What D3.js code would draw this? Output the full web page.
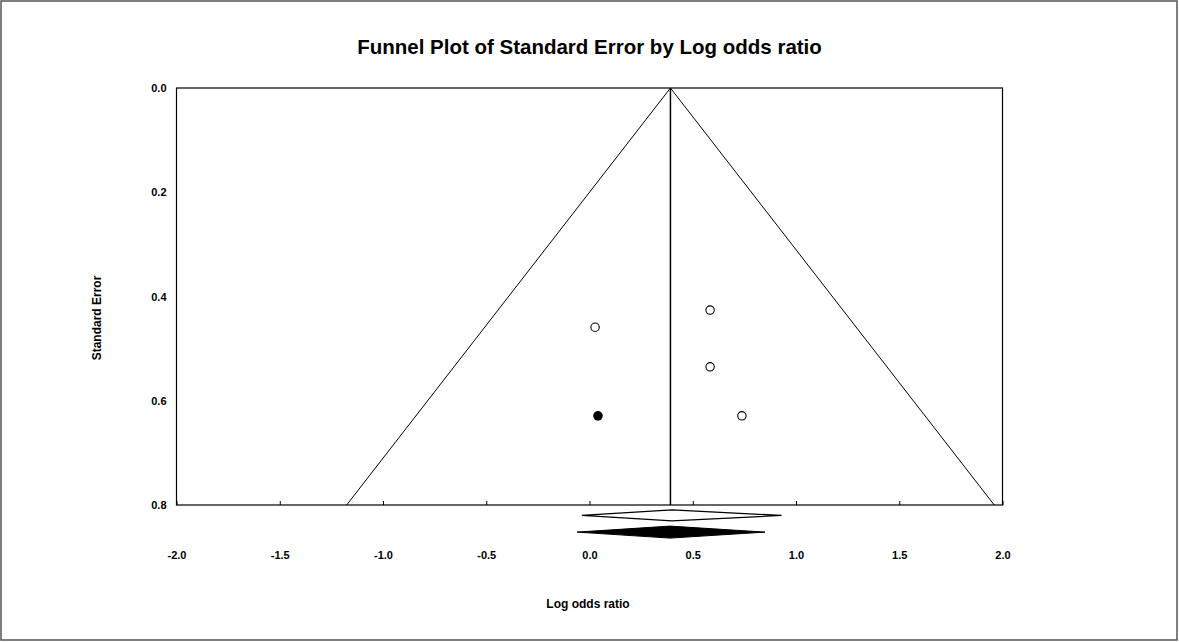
<!DOCTYPE html>
<meta charset="utf-8">
<style>
    body { margin: 0; background: #fff; }
    svg { display: block; font-family: Arial, "Liberation Sans", sans-serif; }
    .axis path { display: none; }
    .axis text { font-size: 11px; font-weight: bold; fill: #000; }
    .axis line { stroke: #000; }
</style>
<body>
<div id="chart"></div>
<script src="https://cdnjs.cloudflare.com/ajax/libs/d3/7.8.5/d3.min.js"></script>
<script>
    // study points: log odds ratio vs standard error
    var observedLOR = [0.027, 0.584, 0.584, 0.738];
    var observedSE = [0.459, 0.426, 0.535, 0.629];
    // imputed (trim and fill) study
    var imputedLOR = [0.041];
    var imputedSE = [0.629];
    // combined estimate used for funnel centre
    var meanLOR = 0.392;
    // summary diamonds: [lower, estimate, upper]
    var observedDiamond = [-0.037, 0.40, 0.93];
    var imputedDiamond = [-0.06, 0.39, 0.85];
    var xTicks = [-2.0, -1.5, -1.0, -0.5, 0.0, 0.5, 1.0, 1.5, 2.0];
    var yTicks = [0.0, 0.2, 0.4, 0.6, 0.8];

    var width = 1179, height = 642;
    var plot = { left: 176.5, right: 1002.5, top: 88, bottom: 505 };
    // plain hyphen for negatives, like the original
    var fmt = d => d.toFixed(1);

    var svg = d3.select("#chart").append("svg")
        .attr("width", width)
        .attr("height", height);

    // outer frame
    svg.append("rect")
        .attr("x", 1).attr("y", 1)
        .attr("width", width - 3).attr("height", height - 3)
        .attr("fill", "#fff")
        .attr("stroke", "#555")
        .attr("stroke-width", 1.5);

    var x = d3.scaleLinear().domain([-2, 2]).range([plot.left, plot.right]);
    var y = d3.scaleLinear().domain([0, 0.8]).range([plot.top, plot.bottom]);

    svg.append("text")
        .attr("x", 589.5).attr("y", 54)
        .attr("text-anchor", "middle")
        .attr("font-size", "20.5px")
        .attr("font-weight", "bold")
        .text("Funnel Plot of Standard Error by Log odds ratio");

    // plot box
    svg.append("rect")
        .attr("x", plot.left).attr("y", plot.top)
        .attr("width", plot.right - plot.left)
        .attr("height", plot.bottom - plot.top)
        .attr("fill", "none")
        .attr("stroke", "#000")
        .attr("stroke-width", 1.2);

    // x axis: small ticks on the bottom edge, labels below the diamonds
    svg.append("g")
        .attr("class", "axis")
        .attr("transform", "translate(0," + plot.bottom + ")")
        .call(d3.axisTop(x).tickValues(xTicks).tickSize(4).tickFormat(""));
    svg.append("g")
        .attr("class", "axis")
        .attr("transform", "translate(0,551)")
        .call(d3.axisBottom(x).tickValues(xTicks).tickSize(0).tickPadding(0).tickFormat(fmt));

    // y axis labels
    svg.append("g")
        .attr("class", "axis")
        .attr("transform", "translate(" + (plot.left - 10) + ",0)")
        .call(d3.axisLeft(y).tickValues(yTicks).tickSize(0).tickPadding(0).tickFormat(fmt));

    // funnel lines (pseudo 95% limits)
    var funnel = d3.line().x(d => x(d[0])).y(d => y(d[1]));
    var seMax = 0.8;
    svg.append("path")
        .attr("d", funnel([[meanLOR - 1.96 * seMax, seMax], [meanLOR, 0], [meanLOR + 1.96 * seMax, seMax]]))
        .attr("fill", "none")
        .attr("stroke", "#000")
        .attr("stroke-width", 1);
    svg.append("line")
        .attr("x1", x(meanLOR)).attr("x2", x(meanLOR))
        .attr("y1", y(0)).attr("y2", y(seMax))
        .attr("stroke", "#000")
        .attr("stroke-width", 1.5);

    // points
    svg.selectAll(".obs")
        .data(observedLOR)
        .enter().append("circle")
        .attr("class", "obs")
        .attr("cx", d => x(d))
        .attr("cy", (d, i) => y(observedSE[i]))
        .attr("r", 4.2)
        .attr("fill", "#fff")
        .attr("stroke", "#000")
        .attr("stroke-width", 1.1);
    svg.selectAll(".imp")
        .data(imputedLOR)
        .enter().append("circle")
        .attr("class", "imp")
        .attr("cx", d => x(d))
        .attr("cy", (d, i) => y(imputedSE[i]))
        .attr("r", 4.8)
        .attr("fill", "#000");

    // summary diamonds
    function diamond(d, yc, h) {
        return [[x(d[0]), yc], [x(d[1]), yc - h], [x(d[2]), yc], [x(d[1]), yc + h]].join(" ");
    }
    svg.append("polygon")
        .attr("points", diamond(observedDiamond, y(0.82), 5.5))
        .attr("fill", "#fff")
        .attr("stroke", "#000")
        .attr("stroke-width", 1.2);
    svg.append("polygon")
        .attr("points", diamond(imputedDiamond, y(0.852), 6))
        .attr("fill", "#000")
        .attr("stroke", "#000")
        .attr("stroke-width", 1);

    // axis titles
    svg.append("text")
        .attr("x", 588).attr("y", 608)
        .attr("text-anchor", "middle")
        .attr("font-size", "12px")
        .attr("font-weight", "bold")
        .text("Log odds ratio");
    svg.append("text")
        .attr("transform", "translate(101,318) rotate(-90)")
        .attr("text-anchor", "middle")
        .attr("font-size", "12px")
        .attr("font-weight", "bold")
        .text("Standard Error");
</script>
</body>
